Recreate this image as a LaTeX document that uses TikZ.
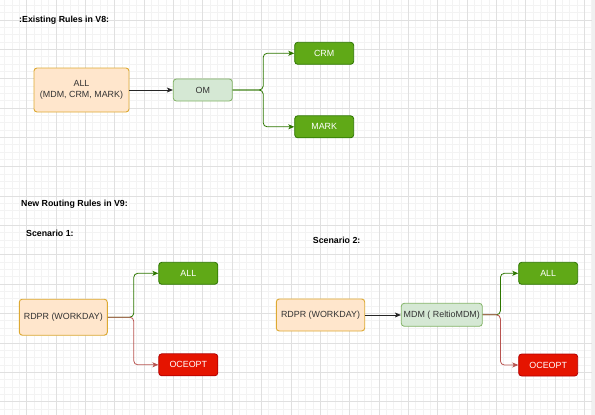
\documentclass[tikz,border=0pt]{standalone}
\usepackage{fontspec}
\setmainfont{Liberation Sans}
\usepackage{tikz}
\usetikzlibrary{arrows.meta,positioning}
\definecolor{sourcefill}{HTML}{FFE6CC}
\definecolor{sourceline}{HTML}{DDA932}
\definecolor{relayfill}{HTML}{D5E8D4}
\definecolor{relayline}{HTML}{82B366}
\definecolor{okfill}{HTML}{60A917}
\definecolor{okline}{HTML}{2D7600}
\definecolor{nofill}{HTML}{E51400}
\definecolor{noline}{HTML}{B20000}
\definecolor{noroute}{HTML}{B85450}
\definecolor{boxtext}{HTML}{333333}
\definecolor{gridminor}{HTML}{F3F3F3}
\definecolor{gridmajor}{HTML}{E0E0E0}

\begin{document}
\begin{tikzpicture}[
		x=1pt, y=-1pt,
		font=\fontsize{8.9}{10.6}\selectfont,
		heading/.style={anchor=west, inner sep=0pt, font=\fontsize{8.8}{10.6}\selectfont\bfseries},
		source/.style={draw=sourceline, line width=0.9pt, fill=sourcefill, text=boxtext, rounded corners=3pt, align=center, inner sep=0pt},
		relay/.style={draw=relayline, line width=0.8pt, fill=relayfill, text=boxtext, rounded corners=3pt, inner sep=0pt},
		okbox/.style={draw=okline, line width=0.8pt, fill=okfill, text=white, rounded corners=3pt, minimum width=59pt, minimum height=22pt, inner sep=0pt},
		nobox/.style={draw=noline, line width=0.8pt, fill=nofill, text=white, rounded corners=3pt, minimum width=59pt, minimum height=22pt, inner sep=0pt},
		route/.style={-{Stealth[length=6pt, width=5pt, inset=1.5pt]}, line width=0.8pt, rounded corners=4pt}
		]
		\useasboundingbox (0,0) rectangle (595,415);
		
		% Draw grid
		\begin{scope}
		\clip (0pt,0pt) rectangle (595pt,-415pt);
		\draw[gridminor, line width=0.7pt, step=7.3375pt, shift={(4.69pt,-5.33pt)}] (-20pt,-440pt) grid (620pt,20pt);
		\draw[gridmajor, line width=0.7pt, step=29.35pt, shift={(26.7pt,-20pt)}] (-40pt,-460pt) grid (640pt,40pt);
		\fill[gray!12] (592pt,0pt) rectangle (595pt,-415pt);
		\end{scope}
		
		% Existing rules
		\node[heading] (oldtitle) at (19,20) {:Existing Rules in V8:};
		\node[source, minimum width=95pt, minimum height=44pt] (allsrc) at (81.5,90) {ALL\\(MDM, CRM, MARK)};
		\node[relay, minimum width=59pt, minimum height=22pt] (om) at (202.8,90) {OM};
		\node[okbox] (crm) at (324.2,53.3) {CRM};
		\node[okbox] (mark) at (324.2,126.8) {MARK};
		
		\draw[route, black!85] (allsrc) -- (om);
		\draw[route, okline] (om.east) -- ++(30.5,0) |- (crm.west);
		\draw[route, okline] (om.east) -- ++(30.5,0) |- (mark.west);
		
		% New rules
		\node[heading] (newtitle) at (21,204.3) {New Routing Rules in V9:};
		\node[heading] (caseone) at (26,233.3) {Scenario 1:};
		\node[heading] (casetwo) at (312.7,240.7) {Scenario 2:};
		
		% Scenario 1
		\node[source, minimum width=88pt, minimum height=36pt] (rdprA) at (63.3,317.2) {RDPR (WORKDAY)};
		\node[okbox] (allA) at (188.3,273.3) {ALL};
		\node[nobox] (oceA) at (188.3,364.8) {OCEOPT};
		
		\draw[route, okline] (rdprA.east) -- ++(26,0) |- (allA.west);
		\draw[route, noroute] (rdprA.east) -- ++(26,0) |- (oceA.west);
		
		% Scenario 2
		\node[source, minimum width=88.4pt, minimum height=32pt] (rdprB) at (320.5,315) {RDPR (WORKDAY)};
		\node[relay, minimum width=81pt, minimum height=23pt] (mdm) at (441.8,314.8) {MDM ( ReltioMDM)};
		\node[okbox] (allB) at (548.2,273.3) {ALL};
		\node[nobox] (oceB) at (548.2,365) {OCEOPT};
		
		\draw[route, black!85] (rdprB.east) -- (rdprB.east -| mdm.west);
		\draw[route, okline] (mdm.east) -- ++(17.7,0) |- (allB.west);
		\draw[route, noroute] (mdm.east) -- ++(17.7,0) |- (oceB.west);
		\end{tikzpicture}
\end{document}
